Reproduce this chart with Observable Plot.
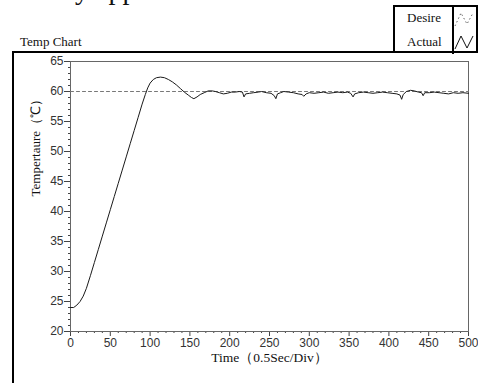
<!DOCTYPE html>
<html>
<head>
<meta charset="utf-8">
<script src="https://cdn.jsdelivr.net/npm/d3@7"></script>
<script src="https://cdn.jsdelivr.net/npm/@observablehq/plot@0.6"></script>
<style>
  html, body { margin: 0; padding: 0; background: #fff; overflow: hidden; }
  #page { position: relative; width: 478px; height: 383px; overflow: hidden; }
  .serif { font-family: "Liberation Serif", "Times New Roman", serif; color: #111; }
  #cut { position: absolute; left: 75px; top: -24px; font-size: 28px; line-height: 28px; white-space: pre; }
  #title { position: absolute; left: 20px; top: 34px; font-size: 13px; line-height: 16px; }
  #legend { position: absolute; left: 393px; top: 5px; width: 81px; height: 45px; border: 2px solid #000; border-bottom: none; }
  #legend .lab { position: absolute; left: 12px; font-size: 13px; line-height: 16px; }
  #legend .div { position: absolute; left: 57px; top: 0; width: 1.5px; height: 47px; background: #000; }
  #legend svg { position: absolute; left: 0; top: 0; }
  #chartbox { position: absolute; left: 12px; top: 51px; width: 466px; height: 332px; border-left: 2px solid #000; border-top: 2px solid #000; box-sizing: border-box; }
  #chart { position: absolute; left: 0; top: 52px; }
</style>
</head>
<body>
<div id="page">
  <div id="cut" class="serif">y app</div>
  <div id="title" class="serif">Temp Chart</div>
  <div id="legend">
    <div class="lab serif" style="top:3px">Desire</div>
    <div class="lab serif" style="top:27px">Actual</div>
    <div class="div"></div>
    <svg width="81" height="47">
      <polyline points="60,19 66,6 72,17 78,6" fill="none" stroke="#666" stroke-width="1" stroke-dasharray="1.5,2.5"/>
      <polyline points="60,42 66,29 72,41 78,29" fill="none" stroke="#111" stroke-width="1"/>
    </svg>
  </div>
  <div id="chartbox"></div>
  <div id="chart"></div>
</div>
<script>
// Tick values
const xTicks = [0, 50, 100, 150, 200, 250, 300, 350, 400, 450, 500];
const xMinorTicks = [10,20,30,40,60,70,80,90,110,120,130,140,160,170,180,190,210,220,230,240,260,270,280,290,310,320,330,340,360,370,380,390,410,420,430,440,460,470,480,490];
const yTicks = [20, 25, 30, 35, 40, 45, 50, 55, 60, 65];
const yMinorTicks = [21,22,23,24,26,27,28,29,31,32,33,34,36,37,38,39,41,42,43,44,46,47,48,49,51,52,53,54,56,57,58,59,61,62,63,64];

// Desire (set point)
const desireTime = [0, 500];
const desireTemp = [60, 60];

// Actual temperature
const actualTime = [0,4,8,12,16,20,25,30,35,40,45,50,55,60,65,70,75,80,85,90,94,97,100,104,108,113,118,123,128,133,138,143,148,152,155,159,163,168,173,178,182,187,192,197,202,207,212,216,218,220,225,230,236,240,246,252,256,258,260,264,268,274,280,286,291,293,296,300,306,312,318,324,330,336,342,348,352,355,357,362,368,374,380,386,392,398,404,410,414,416,418,422,427,432,437,441,443,445,451,457,463,469,475,481,487,493,500];
const actualTemp = [24.0,24.0,24.4,25.0,25.9,27.2,29.3,31.5,33.7,35.9,38.1,40.3,42.5,44.7,46.9,49.1,51.3,53.5,55.7,57.9,59.5,60.6,61.4,62.0,62.3,62.4,62.3,62.0,61.6,61.1,60.5,59.9,59.4,59.0,58.8,59.1,59.5,59.8,60.1,60.1,60.0,59.8,59.6,59.7,59.9,59.9,60.0,59.9,59.1,59.6,59.7,59.8,59.9,60.0,59.8,59.7,59.3,58.8,59.6,59.8,60.0,59.9,59.8,59.6,59.5,59.2,59.6,59.8,59.7,59.8,59.9,59.7,59.8,59.9,59.8,59.9,59.7,59.1,59.6,59.8,59.9,59.8,59.7,59.8,59.9,59.8,59.7,59.6,59.4,58.7,59.5,60.0,60.2,60.1,59.9,59.8,59.3,59.8,59.8,59.9,59.8,59.7,59.6,59.8,59.7,59.8,59.7];

const xLabel = "Time（0.5Sec/Div）";
const yLabel = "Tempertaure（℃）";

const desire = desireTime.map((t, i) => ({t, v: desireTemp[i]}));
const actual = actualTime.map((t, i) => ({t, v: actualTemp[i]}));

const serif = "'Liberation Serif', 'Times New Roman', serif";

const chart = Plot.plot({
  width: 478,
  height: 331,
  marginLeft: 70,
  marginRight: 10,
  marginTop: 9,
  marginBottom: 52,
  style: {fontFamily: "'Liberation Sans', Arial, sans-serif", fontSize: "12px", color: "#333", background: "transparent", overflow: "visible"},
  x: {domain: [0, 500], label: null},
  y: {domain: [20, 65], label: null},
  marks: [
    Plot.axisY({ticks: yMinorTicks, tickSize: 2, text: null, label: null, stroke: "#444"}),
    Plot.axisX({ticks: xMinorTicks, tickSize: 2, text: null, label: null, stroke: "#444"}),
    Plot.axisY({ticks: yTicks, tickSize: 6, tickPadding: 1, label: null, tickFormat: d => String(d), stroke: "#444"}),
    Plot.axisX({ticks: xTicks, tickSize: 5, tickPadding: 2, label: null, tickFormat: d => String(d), stroke: "#444"}),
    Plot.frame({stroke: "#666"}),
    Plot.line(desire, {x: "t", y: "v", stroke: "#777", strokeWidth: 1, strokeDasharray: "3,3"}),
    Plot.line(actual, {x: "t", y: "v", stroke: "#1a1a1a", strokeWidth: 1}),
    Plot.text([xLabel], {frameAnchor: "bottom", dy: 30, text: d => d, fontFamily: serif, fontSize: 13.5, fill: "#111"}),
    Plot.text([yLabel], {frameAnchor: "left", dx: -35, rotate: -90, text: d => d, fontFamily: serif, fontSize: 13, fill: "#111"})
  ]
});
document.getElementById("chart").appendChild(chart);
</script>
</body>
</html>
